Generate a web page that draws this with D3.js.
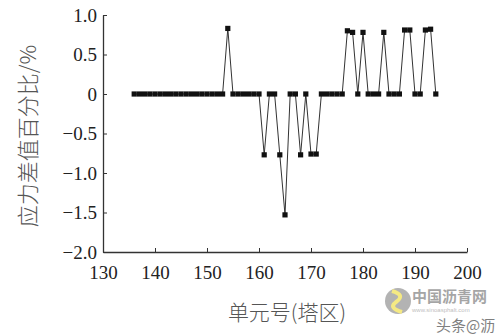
<!DOCTYPE html>
<html>
<head>
<meta charset="utf-8">
<script src="https://cdn.jsdelivr.net/npm/d3@7"></script>
<style>
  body { margin: 0; background: #fff; }
  svg { display: block; }
</style>
</head>
<body>
<div id="chart"></div>
<script>
// element number (tower zone) and stress difference percentage
const UNITS = [136, 137, 138, 139, 140, 141, 142, 143, 144, 145, 146, 147, 148, 149, 150,
  151, 152, 153, 154, 155, 156, 157, 158, 159, 160, 161, 162, 163, 164, 165, 166, 167,
  168, 169, 170, 171, 172, 173, 174, 175, 176, 177, 178, 179, 180, 181, 182, 183, 184,
  185, 186, 187, 188, 189, 190, 191, 192, 193, 194]
const DIFF = [0, 0, 0, 0, 0, 0, 0, 0, 0, 0, 0, 0, 0, 0, 0,
  0, 0, 0, 0.83, 0, 0, 0, 0, 0, 0, -0.77, 0, 0, -0.77, -1.53, 0, 0,
  -0.77, 0, -0.76, -0.76, 0, 0, 0, 0, 0, 0.80, 0.78, 0, 0.78, 0, 0, 0, 0.78,
  0, 0, 0, 0.81, 0.81, 0, 0, 0.81, 0.82, 0]
const X_TICKS = [130, 140, 150, 160, 170, 180, 190, 200]
const Y_TICKS = [-2.0, -1.5, -1.0, -0.5, 0, 0.5, 1.0]

const W = 499, H = 334
const svg = d3.select('#chart').append('svg')
  .attr('width', W)
  .attr('height', H)

const x = d3.scaleLinear().domain([130, 200]).range([103, 467])
const y = d3.scaleLinear().domain([-2, 1]).range([252, 15])

const points = UNITS.map((u, i) => ({ u, v: DIFF[i] }))

// axes, ticks drawn inward
const xAxis = svg.append('g')
  .attr('transform', `translate(0,${y(-2)})`)
  .call(d3.axisBottom(x).tickValues(X_TICKS).tickSizeInner(-4).tickSizeOuter(0).tickPadding(10))
const yAxis = svg.append('g')
  .attr('transform', `translate(${x(130)},0)`)
  .call(d3.axisLeft(y).tickValues(Y_TICKS).tickSizeInner(-4).tickSizeOuter(0).tickPadding(6)
    .tickFormat(d => d === 0 ? '0' : d3.format('.1f')(d)))

for (const ax of [xAxis, yAxis]) {
  ax.select('.domain').attr('stroke', '#333').attr('stroke-width', 1.3)
  ax.selectAll('.tick line').attr('stroke', '#333')
  ax.selectAll('.tick text')
    .attr('fill', '#222')
    .style('font-family', "'Liberation Serif', 'Times New Roman', serif")
    .style('font-size', '19px')
}
xAxis.selectAll('.tick text').attr('dy', '0.9em')
yAxis.selectAll('.tick text').attr('dy', '0.34em')

// the series
const line = d3.line().x(d => x(d.u)).y(d => y(d.v))
svg.append('path')
  .datum(points)
  .attr('fill', 'none')
  .attr('stroke', '#333')
  .attr('stroke-width', 1)
  .attr('d', line)

svg.append('g').selectAll('rect')
  .data(points)
  .join('rect')
    .attr('x', d => x(d.u) - 2.6)
    .attr('y', d => y(d.v) - 2.6)
    .attr('width', 5.2)
    .attr('height', 5.2)
    .attr('fill', '#111')

// axis titles
svg.append('text')
  .attr('transform', 'translate(36,136) rotate(-90)')
  .attr('text-anchor', 'middle')
  .attr('fill', '#555')
  .style('font-family', '"Noto Sans CJK SC", sans-serif')
  .style('font-size', '22px')
  .style('font-weight', 300)
  .text('应力差值百分比/%')

svg.append('text')
  .attr('x', 287)
  .attr('y', 320)
  .attr('text-anchor', 'middle')
  .attr('fill', '#555')
  .style('font-family', '"Noto Sans CJK SC", sans-serif')
  .style('font-size', '21px')
  .style('font-weight', 300)
  .text('单元号(塔区)')

// watermark, bottom right
const wm = svg.append('g').attr('opacity', 0.75)
wm.append('circle').attr('cx', 398).attr('cy', 301).attr('r', 13).attr('fill', '#9a9a9a')
wm.append('path')
  .attr('d', 'M392,291 Q406,295 396,302 Q388,308 402,312')
  .attr('fill', 'none').attr('stroke', '#f2e25a').attr('stroke-width', 4)
wm.append('text')
  .attr('x', 412).attr('y', 302)
  .attr('fill', '#888')
  .style('font-family', '"Noto Sans CJK SC", sans-serif')
  .style('font-size', '15px')
  .style('font-weight', 'bold')
  .text('中国沥青网')
wm.append('text')
  .attr('x', 412).attr('y', 312)
  .attr('fill', '#aaa')
  .style('font-family', 'sans-serif')
  .style('font-size', '6px')
  .text('www.sinoasphalt.com')
wm.append('text')
  .attr('x', 436).attr('y', 331)
  .attr('fill', '#555')
  .style('font-family', '"Noto Sans CJK SC", sans-serif')
  .style('font-size', '15px')
  .text('头条@沥')
</script>
</body>
</html>
